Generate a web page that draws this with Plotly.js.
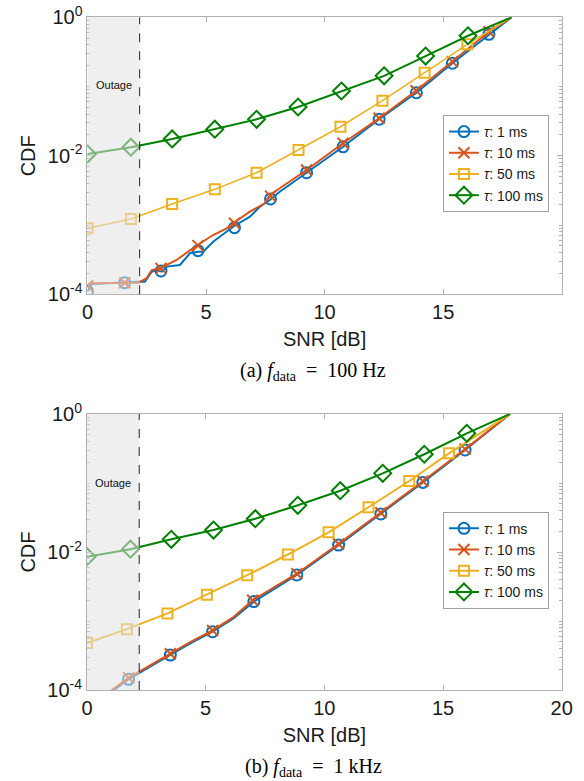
<!DOCTYPE html>
<html>
<head>
<meta charset="utf-8">
<script src="https://cdn.plot.ly/plotly-3.0.1.min.js"></script>
<style>
html,body{margin:0;padding:0;background:#fff;}
#chart{width:584px;height:781px;}
</style>
</head>
<body>
<div id="chart"></div>
<script>
// ---------- DATA : panel (a) f_data = 100 Hz ----------
const seriesNames = ['1 ms', '10 ms', '50 ms', '100 ms'];

const a_tau1_lineX = [0, 0.18, 2.14, 2.42, 2.71, 2.92, 3.13, 3.34, 3.90, 4.32, 4.67, 4.88, 5.30, 5.87, 6.14, 6.85, 7.27, 7.69, 8.11, 9.24, 10.78, 12.30, 13.87, 15.39, 16.93, 17.88];
const a_tau1_lineY = [1.10e-4, 1.41e-4, 1.52e-4, 1.52e-4, 2.12e-4, 2.24e-4, 2.12e-4, 2.51e-4, 2.65e-4, 3.91e-4, 4.12e-4, 4.12e-4, 5.75e-4, 8.02e-4, 9.46e-4, 1.32e-3, 1.84e-3, 2.30e-3, 3.03e-3, 5.70e-3, 1.35e-2, 3.37e-2, 8.15e-2, 0.217, 0.569, 1];
const a_tau1_mkX = [0, 1.57, 3.10, 4.66, 6.20, 7.72, 9.24, 10.78, 12.30, 13.87, 15.39, 16.93];
const a_tau1_mkY = [1.10e-4, 1.47e-4, 2.17e-4, 4.27e-4, 9.16e-4, 2.38e-3, 5.70e-3, 1.35e-2, 3.37e-2, 8.15e-2, 0.217, 0.569];

const a_tau10_lineX = [0, 0.10, 2.14, 2.49, 2.71, 3.06, 3.76, 4.53, 5.30, 5.87, 6.14, 6.85, 7.48, 7.69, 8.11, 9.24, 10.78, 12.30, 13.86, 15.39, 16.93, 17.88];
const a_tau10_lineY = [1.32e-4, 1.44e-4, 1.47e-4, 1.70e-4, 2.24e-4, 2.37e-4, 3.13e-4, 4.86e-4, 7.18e-4, 8.97e-4, 1.06e-3, 1.56e-3, 2.06e-3, 2.72e-3, 3.40e-3, 6.24e-3, 1.52e-2, 3.48e-2, 8.71e-2, 0.229, 0.619, 1];
const a_tau10_mkX = [0, 1.57, 3.10, 4.66, 6.20, 7.72, 9.24, 10.78, 12.30, 13.86, 15.39, 16.93];
const a_tau10_mkY = [1.32e-4, 1.47e-4, 2.37e-4, 5.04e-4, 1.06e-3, 2.62e-3, 6.24e-3, 1.52e-2, 3.48e-2, 8.71e-2, 0.229, 0.619];

const a_tau50_lineX = [0, 1.83, 3.57, 5.37, 7.13, 8.90, 10.67, 12.44, 14.22, 16.02, 17.88];
const a_tau50_lineY = [8.97e-4, 1.22e-3, 2.01e-3, 3.28e-3, 5.70e-3, 1.21e-2, 2.63e-2, 6.25e-2, 0.158, 0.407, 1];
const a_tau50_mkX = [0, 1.83, 3.57, 5.37, 7.13, 8.90, 10.67, 12.44, 14.22, 16.02];
const a_tau50_mkY = [8.97e-4, 1.22e-3, 2.01e-3, 3.28e-3, 5.70e-3, 1.21e-2, 2.63e-2, 6.25e-2, 0.158, 0.407];

const a_tau100_lineX = [0, 1.83, 3.57, 5.37, 7.13, 8.88, 10.71, 12.51, 14.26, 16.05, 17.88];
const a_tau100_lineY = [1.06e-2, 1.33e-2, 1.75e-2, 2.42e-2, 3.37e-2, 5.07e-2, 8.63e-2, 0.143, 0.276, 0.542, 1];
const a_tau100_mkX = [0, 1.83, 3.57, 5.37, 7.13, 8.88, 10.71, 12.51, 14.26, 16.05];
const a_tau100_mkY = [1.06e-2, 1.33e-2, 1.75e-2, 2.42e-2, 3.37e-2, 5.07e-2, 8.63e-2, 0.143, 0.276, 0.542];

// ---------- DATA : panel (b) f_data = 1 kHz ----------
const b_tau1_lineX = [0.90, 1.75, 2.53, 3.51, 4.35, 5.29, 6.17, 7.03, 8.84, 10.60, 12.38, 14.15, 15.93, 17.82];
const b_tau1_lineY = [8.7e-5, 1.43e-4, 2.06e-4, 3.21e-4, 4.75e-4, 7.00e-4, 1.09e-3, 1.91e-3, 4.65e-3, 1.26e-2, 3.56e-2, 0.102, 0.301, 1];
const b_tau1_mkX = [1.75, 3.51, 5.29, 7.03, 8.84, 10.60, 12.38, 14.15, 15.93];
const b_tau1_mkY = [1.43e-4, 3.21e-4, 7.00e-4, 1.91e-3, 4.65e-3, 1.26e-2, 3.56e-2, 0.102, 0.301];

const b_tau10_lineX = [0.85, 1.75, 2.53, 3.51, 4.35, 5.29, 6.17, 6.98, 8.84, 10.60, 12.38, 14.15, 15.93, 17.82];
const b_tau10_lineY = [8.9e-5, 1.50e-4, 2.15e-4, 3.35e-4, 4.95e-4, 7.30e-4, 1.14e-3, 2.00e-3, 4.85e-3, 1.31e-2, 3.70e-2, 0.106, 0.310, 1];
const b_tau10_mkX = [1.75, 3.51, 5.29, 6.98, 8.84, 10.60, 12.38, 14.15, 15.93];
const b_tau10_mkY = [1.50e-4, 3.35e-4, 7.30e-4, 2.00e-3, 4.85e-3, 1.31e-2, 3.70e-2, 0.106, 0.310];

const b_tau50_lineX = [0, 1.68, 3.39, 5.05, 6.75, 8.46, 10.18, 11.86, 13.58, 15.25, 17.82];
const b_tau50_lineY = [4.81e-4, 7.62e-4, 1.29e-3, 2.40e-3, 4.61e-3, 9.20e-3, 1.93e-2, 4.45e-2, 0.107, 0.269, 1];
const b_tau50_mkX = [0, 1.68, 3.39, 5.05, 6.75, 8.46, 10.18, 11.86, 13.58, 15.25];
const b_tau50_mkY = [4.81e-4, 7.62e-4, 1.29e-3, 2.40e-3, 4.61e-3, 9.20e-3, 1.93e-2, 4.45e-2, 0.107, 0.269];

const b_tau100_lineX = [0, 1.83, 3.55, 5.33, 7.09, 8.88, 10.67, 12.46, 14.21, 16.00, 17.82];
const b_tau100_lineY = [8.55e-3, 1.10e-2, 1.53e-2, 2.08e-2, 3.04e-2, 4.75e-2, 7.73e-2, 0.138, 0.261, 0.525, 1];
const b_tau100_mkX = [0, 1.83, 3.55, 5.33, 7.09, 8.88, 10.67, 12.46, 14.21, 16.00];
const b_tau100_mkY = [8.55e-3, 1.10e-2, 1.53e-2, 2.08e-2, 3.04e-2, 4.75e-2, 7.73e-2, 0.138, 0.261, 0.525];

const outageSNR = 2.2;
const xTicksA = [0, 5, 10, 15];
const xTicksB = [0, 5, 10, 15, 20];
const yTicks = [1e-4, 1e-2, 1];
const yTickText = ['10<sup>-4</sup>', '10<sup>-2</sup>', '10<sup>0</sup>'];
const captionA = '(a) <i>f</i><sub>data</sub>\u00A0\u00A0=\u00A0\u00A0100 Hz';
const captionB = '(b) <i>f</i><sub>data</sub>\u00A0\u00A0=\u00A0\u00A01 kHz';

// ---------- STYLE ----------
const colors = ['#0072BD', '#D95319', '#EDB120', '#008000'];
const symbols = ['circle-open', 'x-thin-open', 'square-open', 'diamond-open'];
const msizes = [11, 11, 10, 13];
const sans = 'Liberation Sans, Arial, Helvetica, sans-serif';
const serif = 'Liberation Serif, Times New Roman, serif';
const axisCol = '#b0b0b0';

const panels = [
  {xa: 'x', ya: 'y', leg: 'legend', widths: [2, 2, 1.5, 2],
   lines: [[a_tau1_lineX, a_tau1_lineY], [a_tau10_lineX, a_tau10_lineY], [a_tau50_lineX, a_tau50_lineY], [a_tau100_lineX, a_tau100_lineY]],
   marks: [[a_tau1_mkX, a_tau1_mkY], [a_tau10_mkX, a_tau10_mkY], [a_tau50_mkX, a_tau50_mkY], [a_tau100_mkX, a_tau100_mkY]]},
  {xa: 'x2', ya: 'y2', leg: 'legend2', widths: [2, 2, 2, 2],
   lines: [[b_tau1_lineX, b_tau1_lineY], [b_tau10_lineX, b_tau10_lineY], [b_tau50_lineX, b_tau50_lineY], [b_tau100_lineX, b_tau100_lineY]],
   marks: [[b_tau1_mkX, b_tau1_mkY], [b_tau10_mkX, b_tau10_mkY], [b_tau50_mkX, b_tau50_mkY], [b_tau100_mkX, b_tau100_mkY]]}
];

const traces = [];
panels.forEach(p => {
  for (let i = 0; i < 4; i++) {
    traces.push({x: p.lines[i][0], y: p.lines[i][1], xaxis: p.xa, yaxis: p.ya, mode: 'lines',
      line: {color: colors[i], width: p.widths[i]}, showlegend: false, hoverinfo: 'skip'});
    traces.push({x: p.marks[i][0], y: p.marks[i][1], xaxis: p.xa, yaxis: p.ya, mode: 'markers',
      marker: {symbol: symbols[i], size: msizes[i], color: colors[i], line: {color: colors[i], width: 2}},
      showlegend: false});
  }
  for (let i = 0; i < 4; i++) {
    traces.push({x: [null], y: [null], xaxis: p.xa, yaxis: p.ya, mode: 'lines+markers',
      name: '<i>τ</i>: ' + seriesNames[i], legend: p.leg,
      line: {color: colors[i], width: 2},
      marker: {symbol: symbols[i], size: msizes[i], color: colors[i], line: {color: colors[i], width: 2}}});
  }
});

const minorVals = [];
for (let d = -4; d < 0; d++) for (let k = 1; k <= 9; k++) if (!(k === 1 && d % 2 === 0)) minorVals.push(k * Math.pow(10, d));

function xAxis(domain, ticks, anchor) {
  return {domain: domain, anchor: anchor, range: [0, 20], tickmode: 'array', tickvals: ticks,
    ticks: 'inside', ticklen: 5, tickcolor: axisCol, showline: true, linecolor: axisCol, linewidth: 1, mirror: 'allticks',
    showgrid: false, zeroline: false, tickfont: {family: sans, size: 20, color: '#1a1a1a'},
    title: {text: 'SNR [dB]', font: {family: sans, size: 20, color: '#1a1a1a'}, standoff: 9}, automargin: false};
}
function yAxis(domain, anchor) {
  return {domain: domain, anchor: anchor, type: 'log', range: [-4, 0], tickmode: 'array', tickvals: yTicks, ticktext: yTickText,
    ticks: 'inside', ticklen: 5, tickcolor: axisCol, showline: true, linecolor: axisCol, linewidth: 1, mirror: 'allticks',
    minor: {ticks: 'inside', ticklen: 3, tickcolor: axisCol, tickvals: minorVals, showgrid: false},
    showgrid: false, zeroline: false, tickfont: {family: sans, size: 20, color: '#1a1a1a'},
    title: {text: 'CDF', font: {family: sans, size: 20, color: '#1a1a1a'}, standoff: 6}, automargin: false};
}

function outageShapes(xr, yr) {
  return [
    {type: 'rect', xref: xr, yref: yr + ' domain', x0: 0, x1: outageSNR, y0: 0, y1: 1, layer: 'above',
     fillcolor: 'rgba(226,226,226,0.55)', line: {width: 0}},
    {type: 'line', xref: xr, yref: yr + ' domain', x0: outageSNR, x1: outageSNR, y0: 0, y1: 1, layer: 'above',
     line: {color: '#222', width: 1, dash: 'dash'}}
  ];
}

const legendStyle = {bgcolor: '#ffffff', bordercolor: '#a0a0a0', borderwidth: 1,
  font: {family: sans, size: 14, color: '#1a1a1a'}, xanchor: 'right', yanchor: 'top', x: 0.94, tracegroupgap: 0, itemwidth: 30};

const layout = {
  width: 584, height: 781, margin: {l: 0, r: 0, t: 0, b: 0}, paper_bgcolor: '#ffffff', plot_bgcolor: '#ffffff',
  font: {family: sans},
  xaxis: xAxis([0.1498, 0.9618], xTicksA, 'y'),
  yaxis: yAxis([0.6232, 0.9778], 'x'),
  xaxis2: xAxis([0.1490, 0.9618], xTicksB, 'y2'),
  yaxis2: yAxis([0.1165, 0.4699], 'x2'),
  legend: Object.assign({}, legendStyle, {y: 0.8528}),
  legend2: Object.assign({}, legendStyle, {y: 0.3448}),
  shapes: outageShapes('x', 'y').concat(outageShapes('x2', 'y2')),
  annotations: [
    {xref: 'x', yref: 'y', x: 1.1, y: -0.98, text: 'Outage', showarrow: false, font: {family: sans, size: 11, color: '#111'}},
    {xref: 'x2', yref: 'y2', x: 1.1, y: -1.0, text: 'Outage', showarrow: false, font: {family: sans, size: 11, color: '#111'}},
    {xref: 'paper', yref: 'paper', x: 313 / 584, y: 1 - 371 / 781, xanchor: 'center', yanchor: 'middle', text: captionA, showarrow: false,
     font: {family: serif, size: 20, color: '#000'}},
    {xref: 'paper', yref: 'paper', x: 313 / 584, y: 1 - 767 / 781, xanchor: 'center', yanchor: 'middle', text: captionB, showarrow: false,
     font: {family: serif, size: 20, color: '#000'}}
  ]
};

Plotly.newPlot('chart', traces, layout, {staticPlot: true, displayModeBar: false});
</script>
</body>
</html>
